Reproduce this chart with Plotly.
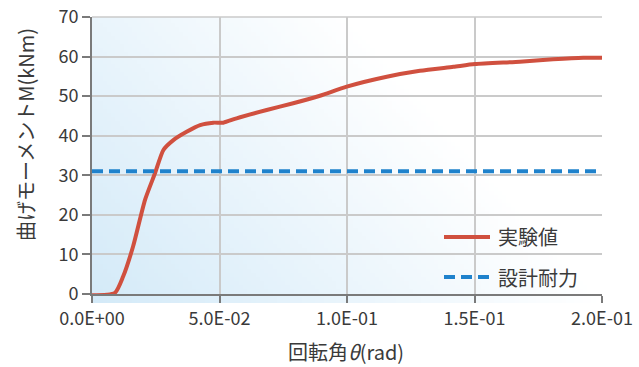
import base64, struct, zlib
import plotly.graph_objects as go

# ---- data ----
theta = [0.0, 0.009, 0.0122, 0.0161, 0.0208, 0.0247, 0.028, 0.0319, 0.0371, 0.0424,
         0.0476, 0.0515, 0.0567, 0.0685, 0.0789, 0.0894, 0.0999, 0.1156, 0.1286,
         0.1417, 0.1502, 0.1678, 0.1808, 0.1926, 0.2]
moment = [-0.3, 0.3, 4.4, 12.0, 23.8, 30.5, 36.4, 38.9, 41.0, 42.7,
          43.3, 43.3, 44.4, 46.5, 48.2, 50.1, 52.4, 54.9, 56.4,
          57.4, 58.1, 58.7, 59.3, 59.7, 59.7]
design_x = [0.0, 0.2]
design_y = [31.0, 31.0]
x_tickvals = [0.0, 0.05, 0.10, 0.15, 0.20]
x_ticktext = ["0.0E+00", "5.0E-02", "1.0E-01", "1.5E-01", "2.0E-01"]
y_tickvals = [0, 10, 20, 30, 40, 50, 60, 70]
series_names = ["実験値", "設計耐力"]
x_title = "回転角<i>θ</i>(rad)"
y_title = "曲げモーメントM(kNm)"

RED = "#d0503f"
BLUE = "#1f82cc"
FONT = "Noto Sans CJK JP"
TXT = "#3a3a3a"

OFF = 0  # page body margin removed by post_script


def gradient_png(w=120, h=70):
    c0 = (212, 234, 248)
    rows = b""
    for j in range(h):
        v = 1 - j / (h - 1)
        row = b"\x00"
        for i in range(w):
            u = i / (w - 1)
            t = min(1.0, u + 0.5 * v)
            row += bytes(int(round(c0[k] + (255 - c0[k]) * t)) for k in range(3))
        rows += row

    def chunk(tag, data):
        return (struct.pack(">I", len(data)) + tag + data +
                struct.pack(">I", zlib.crc32(tag + data) & 0xffffffff))

    png = b"\x89PNG\r\n\x1a\n"
    png += chunk(b"IHDR", struct.pack(">IIBBBBB", w, h, 8, 2, 0, 0, 0))
    png += chunk(b"IDAT", zlib.compress(rows, 9))
    png += chunk(b"IEND", b"")
    return "data:image/png;base64," + base64.b64encode(png).decode()


fig = go.Figure()
fig.add_trace(go.Scatter(x=theta, y=moment, mode="lines", name=series_names[0],
                         line=dict(color=RED, width=4, shape="spline", smoothing=0.6),
                         showlegend=False))
fig.add_trace(go.Scatter(x=design_x, y=design_y, mode="lines", name=series_names[1],
                         line=dict(color=BLUE, width=4, dash="11px,6px"), showlegend=False))

# screen-space layout (reference pixels)
SW, SH = 639, 367
plot_l, plot_r, plot_t, plot_b_ext, y0_scr = 92, 602, 17, 303, 294

W, H = SW - OFF, SH - OFF
ml = plot_l - OFF
mt = plot_t - OFF
mr = W - (plot_r - OFF)
mb = H - (plot_b_ext - OFF)
ph = H - mt - mb
pw = W - ml - mr


def py(p):
    return (plot_b_ext - p) / ph


def px(p):
    return (p - plot_l) / pw


fig.add_layout_image(dict(source=gradient_png(), xref="paper", yref="paper",
                          x=0, y=1, sizex=1, sizey=1, sizing="stretch",
                          xanchor="left", yanchor="top", layer="below"))

# top border line (gridline at 70)
fig.add_shape(type="line", xref="paper", yref="paper", x0=0, x1=1, y0=1, y1=1,
              line=dict(color="#cacaca", width=1.5), layer="below")

# manual legend
fig.add_shape(type="line", xref="paper", yref="paper", x0=px(444), x1=px(490),
              y0=py(237), y1=py(237), line=dict(color=RED, width=4))
fig.add_shape(type="line", xref="paper", yref="paper", x0=px(444), x1=px(490),
              y0=py(277), y1=py(277), line=dict(color=BLUE, width=4, dash="11px,6px"))
for name, yy in zip(series_names, [237, 277]):
    fig.add_annotation(text=name, xref="paper", yref="paper", x=px(496), y=py(yy),
                       xanchor="left", yanchor="middle", showarrow=False,
                       font=dict(family=FONT, size=20, color=TXT))

# axis titles
fig.add_annotation(text=y_title, xref="paper", yref="paper", x=px(25), y=py(135),
                   xanchor="center", yanchor="middle", textangle=-90, showarrow=False,
                   font=dict(family=FONT, size=20, color=TXT))
fig.add_annotation(text=x_title, xref="paper", yref="paper", x=px(346), y=py(351),
                   xanchor="center", yanchor="middle", showarrow=False,
                   font=dict(family=FONT, size=20, color=TXT))

fig.update_layout(
    width=W, height=H,
    margin=dict(l=ml, r=mr, t=mt, b=mb, autoexpand=False),
    paper_bgcolor="white",
    plot_bgcolor="rgba(0,0,0,0)",
    font=dict(family=FONT, size=18, color=TXT),
    xaxis=dict(range=[0, 0.2], tickvals=x_tickvals, ticktext=x_ticktext,
               showline=True, linecolor="#7a7a7a", linewidth=2,
               ticks="outside", ticklen=7, tickwidth=2, tickcolor="#7a7a7a",
               showgrid=True, gridcolor="#cacaca", gridwidth=1.5,
               zeroline=False, anchor="y", automargin=False,
               ticklabeloverflow="allow",
               tickfont=dict(size=18, color=TXT)),
    yaxis=dict(range=[0, 70], tickvals=y_tickvals,
               domain=[(plot_b_ext - y0_scr) / ph, 1],
               showline=True, linecolor="#7a7a7a", linewidth=2,
               ticks="outside", ticklen=8, tickwidth=2, tickcolor="#7a7a7a",
               showgrid=True, gridcolor="#cacaca", gridwidth=1.5,
               zeroline=False, automargin=False,
               ticklabeloverflow="allow",
               tickfont=dict(size=18, color=TXT)),
)

fig.write_html("out.html", config={"displayModeBar": False},
               post_script="document.body.style.margin='0px';document.body.style.overflow='hidden';")
